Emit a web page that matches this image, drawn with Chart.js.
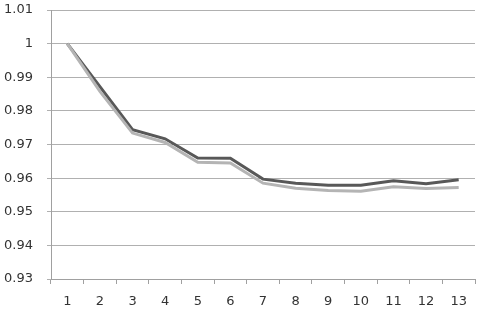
<!DOCTYPE html>
<html><head><meta charset="utf-8">
<script src="https://cdn.jsdelivr.net/npm/chart.js@4"></script>
<style>html,body{margin:0;padding:0;background:#fff}#w{width:497px;height:318px}</style>
</head><body><div id="w"><canvas id="c"></canvas></div>
<script>
const categories = ["1","2","3","4","5","6","7","8","9","10","11","12","13"];
const seriesDark = [1.0, 0.9872, 0.9744, 0.9717, 0.9660, 0.9659, 0.9597, 0.9585, 0.9579, 0.9579, 0.9592, 0.9583, 0.9595];
const seriesLight = [1.0, 0.9858, 0.9734, 0.9706, 0.9647, 0.9645, 0.9585, 0.9570, 0.9563, 0.9561, 0.9574, 0.9569, 0.9572];
const yTicks = [0.93, 0.94, 0.95, 0.96, 0.97, 0.98, 0.99, 1, 1.01];

new Chart(document.getElementById('c'), {
  type: 'line',
  data: {
    labels: categories,
    datasets: [
      {data: seriesLight, borderColor: '#b4b4b4', borderWidth: 3, pointRadius: 0, tension: 0, fill: false},
      {data: seriesDark, borderColor: '#585858', borderWidth: 3, pointRadius: 0, tension: 0, fill: false}
    ]
  },
  options: {
    responsive: true, maintainAspectRatio: false, animation: false,
    layout: {padding: {top: 10, right: 22, left: 0, bottom: 0}},
    plugins: {legend: {display: false}, tooltip: {enabled: false}},
    scales: {
      x: {
        offset: true,
        grid: {display: true, offset: true, drawOnChartArea: false, drawTicks: true, tickLength: 5, color: '#a0a0a0'},
        border: {color: '#a0a0a0', width: 1},
        ticks: {color: '#333', font: {family: 'DejaVu Sans', size: 13}, padding: 10, maxRotation: 0},
        afterFit: s => { s.height = 39; s.paddingLeft = 0; s.paddingRight = 0; }
      },
      y: {
        min: 0.93, max: 1.01,
        afterBuildTicks: s => { s.ticks = yTicks.map(v => ({value: v})); },
        grid: {color: '#b0b0b0', tickLength: 4},
        border: {color: '#a0a0a0', width: 1},
        ticks: {color: '#333', font: {family: 'DejaVu Sans', size: 13}, padding: 14,
          callback: v => String(+v.toFixed(2))},
        afterFit: s => { s.width = 51; s.paddingTop = 0; s.paddingBottom = 0; }
      }
    }
  }
});
</script></body></html>
